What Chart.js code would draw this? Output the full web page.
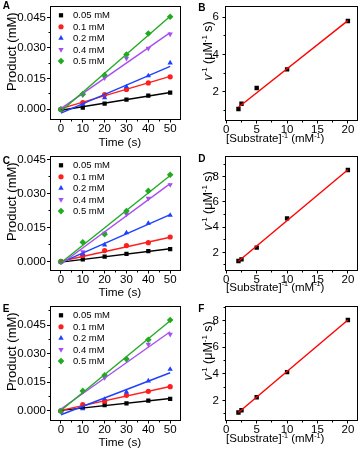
<!DOCTYPE html>
<html><head><meta charset="utf-8">
<script src="https://cdn.jsdelivr.net/npm/chart.js@4.4.1/dist/chart.umd.min.js"></script>
<style>
html,body{margin:0;padding:0;background:#fff;}
body{width:362px;height:451px;position:relative;overflow:hidden;}
canvas{position:absolute;}
</style></head><body>
<canvas id="cA"></canvas><canvas id="cB"></canvas>
<canvas id="cC"></canvas><canvas id="cD"></canvas>
<canvas id="cE"></canvas><canvas id="cF"></canvas>
<script>
// ---------- data ----------
const times = [0, 10, 20, 30, 40, 50];
const fitTimes = [0, 50];
const concLabels = ['0.05 mM', '0.1 mM', '0.2 mM', '0.4 mM', '0.5 mM'];

// Panel A (product, mM)
const prodA_005 = [0, 0.0008, 0.0028, 0.0047, 0.0067, 0.0082];
const prodA_01  = [0, 0.0033, 0.0072, 0.0097, 0.0129, 0.0159];
const prodA_02  = [0, 0.0023, 0.0057, 0.0110, 0.0164, 0.0227];
const prodA_04  = [0, 0.0070, 0.0154, 0.0249, 0.0298, 0.0368];
const prodA_05  = [0, 0.0074, 0.0167, 0.0268, 0.0371, 0.0453];
const fitA_005 = [-0.0005, 0.0082];
const fitA_01  = [0.0003, 0.0161];
const fitA_02  = [-0.0019, 0.0210];
const fitA_04  = [0.0003, 0.0375];
const fitA_05  = [-0.0010, 0.0455];

// Panel C
const prodC_005 = [0, 0.0010, 0.0022, 0.0035, 0.0047, 0.0056];
const prodC_01  = [0, 0.0028, 0.0049, 0.0071, 0.0084, 0.0109];
const prodC_02  = [0, 0.0034, 0.0074, 0.0128, 0.0170, 0.0205];
const prodC_04  = [0, 0.0044, 0.0125, 0.0210, 0.0280, 0.0340];
const prodC_05  = [0, 0.0086, 0.0121, 0.0224, 0.0313, 0.0384];
const fitC_005 = [-0.0002, 0.0057];
const fitC_01  = [0.0002, 0.0108];
const fitC_02  = [-0.0004, 0.0208];
const fitC_04  = [-0.0010, 0.0345];
const fitC_05  = [-0.0005, 0.0381];

// Panel E
const prodE_005 = [0, 0.0017, 0.0030, 0.0040, 0.0054, 0.0063];
const prodE_01  = [0, 0.0033, 0.0051, 0.0082, 0.0103, 0.0127];
const prodE_02  = [0, 0.0012, 0.0061, 0.0099, 0.0157, 0.0218];
const prodE_04  = [0, 0.0102, 0.0174, 0.0267, 0.0349, 0.0401];
const prodE_05  = [0, 0.0105, 0.0187, 0.0272, 0.0373, 0.0476];
const fitE_005 = [0.0003, 0.0065];
const fitE_01  = [0.0003, 0.0128];
const fitE_02  = [-0.0020, 0.0200];
const fitE_04  = [0.0010, 0.0415];
const fitE_05  = [0.0002, 0.0472];

// Lineweaver-Burk panels
const invSubstrate = [2, 2.5, 5, 10, 20];
const fitInvS = [2, 20];
const invVelB = [1.07, 1.35, 2.20, 3.20, 5.80];
const fitB = [1.16, 5.82];
const invVelD = [1.31, 1.44, 2.37, 4.69, 8.53];
const fitD = [1.30, 8.55];
const invVelF = [1.10, 1.27, 2.25, 4.13, 8.05];
const fitF = [1.10, 8.05];

// tick labels
const timeTicks = [0, 10, 20, 30, 40, 50];
const timeMinor = [5, 15, 25, 35, 45];
const productTicks = [0, 0.015, 0.030, 0.045];
const productMinor = [0.0075, 0.0225, 0.0375, 0.0525];
const invSTicks = [0, 5, 10, 15, 20];
const invSMinor = [2.5, 7.5, 12.5, 17.5];
const invVTicksB = [2, 4, 6];
const invVMinorB = [1, 3, 5];
const invVTicksDF = [2, 4, 6, 8];
const invVMinorDF = [1, 3, 5, 7, 9];

// ---------- styles ----------
const FAMILY = '"Liberation Sans", Arial, sans-serif';
Chart.defaults.font.family = FAMILY;
Chart.defaults.color = '#000';
const seriesColors = ['#000000', '#ff1f1f', '#1f40ff', '#a64ff0', '#22aa22'];
const seriesStyles = ['rect', 'circle', 'triangle', 'triangle', 'rectRot'];
const seriesRot = [0, 0, 0, 180, 0];
const seriesRadius = [3.0, 2.6, 3.1, 3.1, 3.3];

function mmDatasets(prods, fits) {
  const ds = [];
  prods.forEach((arr, i) => {
    ds.push({label: concLabels[i], data: times.map((t, k) => ({x: t, y: arr[k]})), showLine: false,
      pointStyle: seriesStyles[i], pointRotation: seriesRot[i], pointRadius: seriesRadius[i],
      pointBorderWidth: 0, backgroundColor: seriesColors[i], borderColor: seriesColors[i], order: 10 - i});
  });
  fits.forEach((arr, i) => {
    ds.push({label: concLabels[i] + ' fit', data: fitTimes.map((t, k) => ({x: t, y: arr[k]})), showLine: true,
      pointRadius: 0, borderColor: seriesColors[i], backgroundColor: seriesColors[i], borderWidth: 1.4,
      fill: false, order: 4 - i});
  });
  return ds;
}
function lbDatasets(vals, fit) {
  return [
    {label: 'data', data: invSubstrate.map((s, k) => ({x: s, y: vals[k]})), showLine: false,
      pointStyle: 'rect', pointRadius: 3.1, pointBorderWidth: 0, backgroundColor: '#000', borderColor: '#000', order: 2},
    {label: 'fit', data: fitInvS.map((s, k) => ({x: s, y: fit[k]})), showLine: true, pointRadius: 0,
      borderColor: '#ff0000', backgroundColor: '#ff0000', borderWidth: 1.4, fill: false, order: 1}
  ];
}

function fontFor(s, size) {
  const sz = s.sup ? size * 0.62 : size;
  return (s.bold ? 'bold ' : '') + (s.it ? 'italic ' : '') + sz + 'px ' + FAMILY;
}
function drawRich(ctx, segs, size, cx, cy, rot) {
  ctx.save();
  ctx.translate(cx, cy); ctx.rotate(rot);
  let w = 0;
  segs.forEach(s => { ctx.font = fontFor(s, size); w += ctx.measureText(s.t).width; });
  let x = -w / 2;
  ctx.textAlign = 'left'; ctx.textBaseline = 'alphabetic'; ctx.fillStyle = '#000';
  const base = size * 0.34;
  segs.forEach(s => {
    ctx.font = fontFor(s, size);
    ctx.fillText(s.t, x, base + (s.sup ? -size * 0.40 : 0));
    x += ctx.measureText(s.t).width;
  });
  ctx.restore();
}
function marker(ctx, style, rotDeg, r, x, y) {
  ctx.beginPath();
  if (style === 'circle') { ctx.arc(x, y, r, 0, Math.PI * 2); }
  else if (style === 'rect') { const s = r * Math.SQRT1_2; ctx.rect(x - s, y - s, 2 * s, 2 * s); }
  else if (style === 'rectRot') { ctx.moveTo(x - r, y); ctx.lineTo(x, y - r); ctx.lineTo(x + r, y); ctx.lineTo(x, y + r); ctx.closePath(); }
  else if (style === 'triangle') {
    let a = rotDeg * Math.PI / 180;
    for (let k = 0; k < 3; k++) { const px = x + Math.sin(a) * r, py = y - Math.cos(a) * r; k ? ctx.lineTo(px, py) : ctx.moveTo(px, py); a += 2 * Math.PI / 3; }
    ctx.closePath();
  }
  ctx.fill();
}
const alignPx = v => Math.round(v - 0.5) + 0.5;

const yTitleMM = [{t: 'Product (mM)'}];
const xTitleMM = [{t: 'Time (s)'}];
const yTitleLB = [{t: 'v', it: true}, {t: '-1', sup: true}, {t: ' (\u03bcM'}, {t: '-1', sup: true}, {t: ' s)'}];
const xTitleLB = [{t: '[Substrate]'}, {t: '-1', sup: true}, {t: ' (mM'}, {t: '-1', sup: true}, {t: ')'}];

function makePanel(p) {
  const cv = document.getElementById(p.id);
  cv.width = p.w; cv.height = p.h;
  cv.style.left = p.left + 'px'; cv.style.top = p.top + 'px';
  cv.style.width = p.w + 'px'; cv.style.height = p.h + 'px';
  const deco = {
    id: 'deco' + p.id,
    afterDraw(chart) {
      const ctx = chart.ctx, ca = chart.chartArea;
      const xs = chart.scales.x, ys = chart.scales.y;
      ctx.save();
      ctx.strokeStyle = '#000'; ctx.lineWidth = 1;
      const x0 = alignPx(ca.left), x1 = alignPx(ca.right), y0 = alignPx(ca.top), y1 = alignPx(ca.bottom);
      ctx.strokeRect(x0, y0, x1 - x0, y1 - y0);
      ctx.beginPath();
      p.xMinor.forEach(v => { if (v > xs.min && v < xs.max) { const px = alignPx(xs.getPixelForValue(v)); ctx.moveTo(px, y1); ctx.lineTo(px, y1 + 2); } });
      p.yMinor.forEach(v => { if (v > ys.min && v < ys.max) { const py = alignPx(ys.getPixelForValue(v)); ctx.moveTo(x0, py); ctx.lineTo(x0 - 2, py); } });
      ctx.stroke();
      drawRich(ctx, p.yTitle, p.yTitleSize, p.yTitlePos[0], p.yTitlePos[1], -Math.PI / 2);
      drawRich(ctx, p.xTitle, p.xTitleSize, p.xTitlePos[0], p.xTitlePos[1], 0);
      ctx.font = 'bold 10px ' + FAMILY; ctx.fillStyle = '#000'; ctx.textAlign = 'left'; ctx.textBaseline = 'alphabetic';
      ctx.fillText(p.letter, p.letterPos[0], p.letterPos[1]);
      if (p.legend) {
        ctx.font = '9.5px ' + FAMILY; ctx.textBaseline = 'middle';
        concLabels.forEach((lab, i) => {
          const yy = 15.3 + 11.45 * i;
          ctx.fillStyle = seriesColors[i];
          marker(ctx, seriesStyles[i], seriesRot[i], seriesRadius[i], 61, yy);
          ctx.fillStyle = '#000';
          ctx.fillText(lab, 73, yy + 0.5);
        });
      }
      ctx.restore();
    }
  };
  const axisCommon = {
    type: 'linear', bounds: 'data',
    grid: {display: true, drawOnChartArea: false, drawTicks: true, tickLength: 3, color: '#000', lineWidth: 1},
    border: {display: true, color: '#000', width: 1}
  };
  new Chart(cv, {
    type: 'scatter',
    data: {datasets: p.datasets},
    options: {
      responsive: false, animation: false, devicePixelRatio: 1,
      layout: {padding: {left: 0, top: p.area.t, right: p.w - p.area.r, bottom: 0}},
      plugins: {legend: {display: false}, tooltip: {enabled: false}},
      scales: {
        x: Object.assign({}, axisCommon, {
          position: 'bottom', min: p.x[0], max: p.x[1],
          afterBuildTicks: s => { s.ticks = p.xTicks.map(v => ({value: v})); },
          afterFit: s => { s.height = p.h - p.area.b; s.paddingLeft = 0; s.paddingRight = 0; s.paddingTop = 0; s.paddingBottom = 0; },
          ticks: {autoSkip: false, maxRotation: 0, minRotation: 0, padding: 1, color: '#000',
            font: {size: 11.5, lineHeight: 1}, callback: v => String(v)}
        }),
        y: Object.assign({}, axisCommon, {
          position: 'left', min: p.y[0], max: p.y[1],
          afterBuildTicks: s => { s.ticks = p.yTicks.map(v => ({value: v})); },
          afterFit: s => { s.width = p.area.l; s.paddingLeft = 0; s.paddingRight = 0; s.paddingTop = 0; s.paddingBottom = 0; },
          ticks: {autoSkip: false, padding: p.yPad, color: '#000', font: {size: 11.5, lineHeight: 1},
            callback: v => p.yFmt(v)}
        })
      }
    },
    plugins: [deco]
  });
}

const fmt3 = v => Number(v).toFixed(3);
const fmt0 = v => String(Math.round(v));
const mmBase = {w: 184, left: 0, x: [-5, 54.5], xTicks: timeTicks, xMinor: timeMinor, yTicks: productTicks, yMinor: productMinor,
  yFmt: fmt3, yPad: 1, yTitle: yTitleMM, yTitleSize: 13, xTitle: xTitleMM, xTitleSize: 11.8, legend: true};
const lbBase = {w: 179, left: 183, x: [-0.13, 21.5], xTicks: invSTicks, xMinor: invSMinor,
  yFmt: fmt0, yPad: 3.5, yTitle: yTitleLB, yTitleSize: 12.5, xTitle: xTitleLB, xTitleSize: 11.5, legend: false};

makePanel(Object.assign({}, mmBase, {id: 'cA', top: 0, h: 150, area: {l: 50, t: 6.5, r: 182, b: 119.5}, y: [-0.005, 0.0503],
  datasets: mmDatasets([prodA_005, prodA_01, prodA_02, prodA_04, prodA_05], [fitA_005, fitA_01, fitA_02, fitA_04, fitA_05]),
  yTitlePos: [12, 51.7], xTitlePos: [119.8, 141.7], letter: 'A', letterPos: [2.7, 9.3]}));
makePanel(Object.assign({}, lbBase, {id: 'cB', top: 0, h: 150, area: {l: 42.5, t: 6.5, r: 174, b: 120.5}, y: [0.45, 6.58],
  yTicks: invVTicksB, yMinor: invVMinorB, datasets: lbDatasets(invVelB, fitB),
  yTitlePos: [25, 51], xTitlePos: [92.2, 138.3], letter: 'B', letterPos: [15.3, 11]}));
makePanel(Object.assign({}, mmBase, {id: 'cC', top: 150, h: 150, area: {l: 50, t: 6.5, r: 182, b: 120.5}, y: [-0.0039, 0.0465],
  datasets: mmDatasets([prodC_005, prodC_01, prodC_02, prodC_04, prodC_05], [fitC_005, fitC_01, fitC_02, fitC_04, fitC_05]),
  yTitlePos: [12, 51.7], xTitlePos: [119.8, 142.3], letter: 'C', letterPos: [2.7, 13.5]}));
makePanel(Object.assign({}, lbBase, {id: 'cD', top: 150, h: 150, area: {l: 42.5, t: 6.5, r: 174, b: 120.5}, y: [0.56, 9.6],
  yTicks: invVTicksDF, yMinor: invVMinorDF, datasets: lbDatasets(invVelD, fitD),
  yTitlePos: [25, 51], xTitlePos: [92.2, 137], letter: 'D', letterPos: [15.3, 12.3]}));
makePanel(Object.assign({}, mmBase, {id: 'cE', top: 300, h: 151, area: {l: 50, t: 6.5, r: 182, b: 120.5}, y: [-0.005, 0.0547],
  datasets: mmDatasets([prodE_005, prodE_01, prodE_02, prodE_04, prodE_05], [fitE_005, fitE_01, fitE_02, fitE_04, fitE_05]),
  yTitlePos: [12, 51.7], xTitlePos: [119.8, 141.7], letter: 'E', letterPos: [2.7, 12.3]}));
makePanel(Object.assign({}, lbBase, {id: 'cF', top: 300, h: 151, area: {l: 42.5, t: 6.5, r: 174, b: 120.5}, y: [0.5, 9.06],
  yTicks: invVTicksDF, yMinor: invVMinorDF, datasets: lbDatasets(invVelF, fitF),
  yTitlePos: [25, 51], xTitlePos: [92.2, 138.3], letter: 'F', letterPos: [15.3, 12.3]}));
</script>
</body></html>
